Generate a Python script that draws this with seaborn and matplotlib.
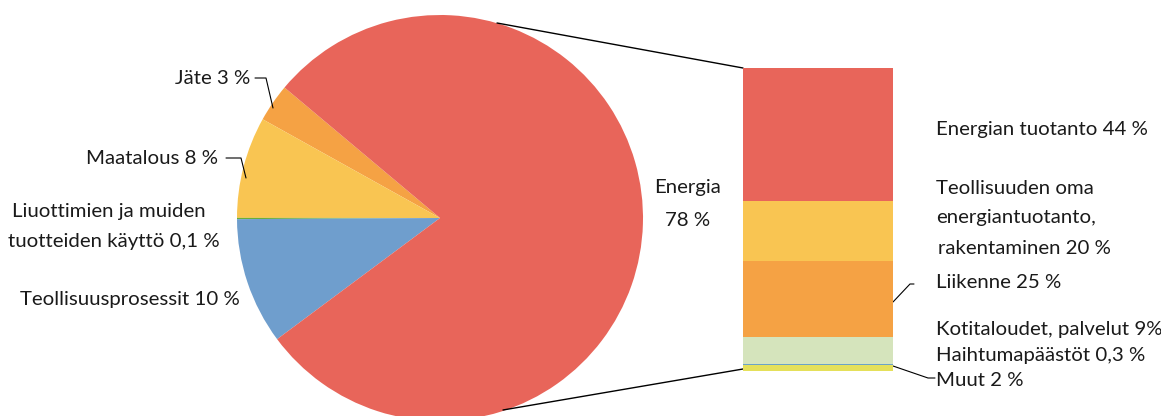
# pie-of-bar chart: Finnish greenhouse gas emissions by sector

import matplotlib.pyplot as plt
import numpy as np
import seaborn as sns

# pie data (drawn counterclockwise starting from Jäte)
pie_labels = ['Jäte', 'Maatalous', 'Liuottimien ja muiden tuotteiden käyttö',
              'Teollisuusprosessit', 'Energia']
pie_values = [3, 8, 0.1, 10, 78]
pie_colors = ['#F5A244', '#F9C552', '#6AAE3A', '#6F9ECD', '#E8655A']

# bar data, from bottom to top
bar_labels = ['Muut', 'Haihtumapäästöt', 'Kotitaloudet, palvelut',
              'Liikenne', 'Teollisuuden oma energiantuotanto, rakentaminen',
              'Energian tuotanto']
bar_values = [2, 0.3, 9, 25, 20, 44]
bar_colors = ['#E5E05A', '#6BA3C8', '#D5E4BC', '#F5A244', '#F9C552', '#E8655A']

W, H = 1161, 416
sns.set_style('white')
plt.rcParams['font.family'] = ['Lato', 'DejaVu Sans']
FS = 14.7
TC = '#1a1a1a'

fig = plt.figure(figsize=(W / 100, H / 100), dpi=100)
ax = fig.add_axes([0, 0, 1, 1])


def py(y):
    # pixel row -> data y
    return H - y


# the pie
wedges, _ = ax.pie(pie_values, colors=pie_colors, startangle=140,
                   counterclock=True, center=(440, py(218)), radius=203,
                   frame=True, wedgeprops=dict(linewidth=0))
ax.set_xlim(0, W)
ax.set_ylim(0, H)
ax.set_aspect('equal')
ax.axis('off')

# stacked bar with seaborn: overlay cumulative bars from tallest to shortest
bax = fig.add_axes([743 / W, (H - 371) / H, 150 / W, 303 / H])
cum = np.cumsum(bar_values)
for total, col in zip(cum[::-1], bar_colors[::-1]):
    sns.barplot(x=[0], y=[total], color=col, width=1, ax=bax,
                saturation=1, linewidth=0)
bax.set_xlim(-0.5, 0.5)
bax.set_ylim(0, cum[-1])
bax.axis('off')

# connector lines between the pie and the bar
ax.plot([497, 743], [py(23), py(68)], color='black', lw=1)
ax.plot([503, 743], [py(410), py(369)], color='black', lw=1)

# pie labels
ax.text(250, py(78), 'Jäte 3 %', ha='right', va='center', fontsize=FS, color=TC)
ax.plot([255, 266, 273], [py(78), py(78), py(108)], color='black', lw=0.8)
ax.text(218, py(158), 'Maatalous 8 %', ha='right', va='center', fontsize=FS, color=TC)
ax.plot([226, 241, 246], [py(158), py(158), py(178)], color='black', lw=0.8)
ax.text(109, py(212), 'Liuottimien ja muiden', ha='center', va='center', fontsize=FS, color=TC)
ax.text(114, py(242), 'tuotteiden käyttö 0,1 %', ha='center', va='center', fontsize=FS, color=TC)
ax.text(20, py(299), 'Teollisuusprosessit 10 %', ha='left', va='center', fontsize=FS, color=TC)
ax.text(688, py(188), 'Energia', ha='center', va='center', fontsize=FS, color=TC)
ax.text(688, py(220), '78 %', ha='center', va='center', fontsize=FS, color=TC)

# bar labels
rx = 936
ax.text(rx, py(130), 'Energian tuotanto 44 %', ha='left', va='center', fontsize=FS, color=TC)
ax.text(rx, py(188), 'Teollisuuden oma', ha='left', va='center', fontsize=FS, color=TC)
ax.text(rx, py(218), 'energiantuotanto,', ha='left', va='center', fontsize=FS, color=TC)
ax.text(rx + 2, py(249), 'rakentaminen 20 %', ha='left', va='center', fontsize=FS, color=TC)
ax.text(rx, py(283), 'Liikenne 25 %', ha='left', va='center', fontsize=FS, color=TC)
ax.plot([893, 910, 914], [py(302), py(284), py(284)], color='black', lw=0.8)
ax.text(rx, py(330), 'Kotitaloudet, palvelut 9%', ha='left', va='center', fontsize=FS, color=TC)
ax.text(rx, py(355), 'Haihtumapäästöt 0,3 %', ha='left', va='center', fontsize=FS, color=TC)
ax.text(rx, py(380), 'Muut 2 %', ha='left', va='center', fontsize=FS, color=TC)
ax.plot([893, 928, 935], [py(366), py(378), py(378)], color='black', lw=0.8)

fig.savefig('out.png', dpi=100)
